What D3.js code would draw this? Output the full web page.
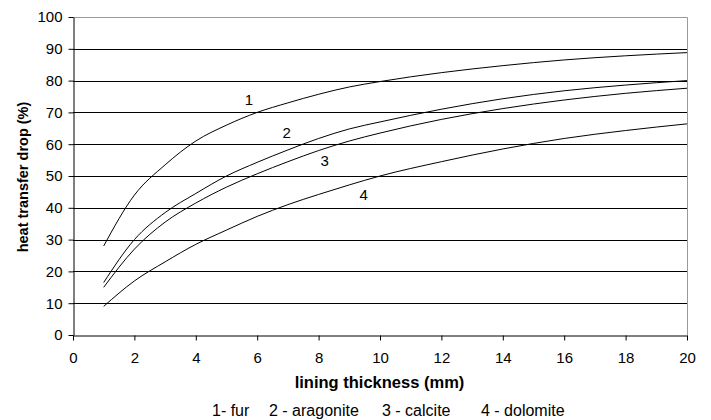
<!DOCTYPE html>
<html>
<head>
<meta charset="utf-8">
<script src="https://cdn.jsdelivr.net/npm/d3@7"></script>
<style>
  body { margin: 0; background: #fff; }
  text { font-family: "Liberation Sans", Arial, sans-serif; }
</style>
</head>
<body>
<div id="chart"></div>
<script>
// Data
var thickness = [1, 2, 3, 4, 5, 6, 7, 8, 9, 10, 12, 14, 16, 18, 20];
var fur       = [28, 44, 53.5, 61, 66, 70, 73, 75.7, 78, 79.7, 82.5, 84.7, 86.5, 87.8, 88.8];
var aragonite = [16.5, 30, 38.5, 44.5, 50, 54.3, 58.2, 61.8, 64.8, 67, 71, 74.3, 76.8, 78.6, 80];
var calcite   = [15, 27, 35.5, 41.5, 46.5, 50.7, 54.5, 58, 61, 63.5, 67.8, 71.2, 73.9, 76, 77.6];
var dolomite  = [9, 17, 23, 28.5, 33, 37.3, 41, 44.2, 47.2, 50, 54.5, 58.5, 61.8, 64.3, 66.4];
var seriesNames = ["1", "2", "3", "4"];
var labelPos = [[5.73, 72.3], [6.96, 62.1], [8.2, 53.1], [9.47, 42.5]];
var legendItems = ["1- fur", "2 - aragonite", "3 - calcite", "4 - dolomite"];
var xTicks = d3.range(0, 21, 2);
var yTicks = d3.range(0, 101, 10);

var margin = {top: 17, right: 24, bottom: 85, left: 73},
    width = 711 - margin.left - margin.right,
    height = 420 - margin.top - margin.bottom;

// Legend item start positions (page pixels)
var legendX = [212, 269, 382, 481];

var svg = d3.select("#chart")
  .append("svg")
    .attr("width", 711)
    .attr("height", 420)
  .append("g")
    .attr("transform", "translate(" + margin.left + "," + margin.top + ")");

var x = d3.scaleLinear().domain([0, 20]).range([0, width]);
var y = d3.scaleLinear().domain([0, 100]).range([height, 0]);

// Gridlines
svg.selectAll("line.grid")
  .data(yTicks.filter(function(d) { return d > 0 && d < 100; }))
  .enter()
  .append("line")
    .attr("class", "grid")
    .attr("x1", 0).attr("x2", width)
    .attr("y1", function(d) { return Math.round(y(d)) + 0.5; })
    .attr("y2", function(d) { return Math.round(y(d)) + 0.5; })
    .attr("stroke", "#000")
    .attr("stroke-width", 1);

// Plot border (top and right)
svg.append("path")
  .attr("d", "M0," + (Math.round(y(100)) + 0.5) + "H" + (Math.round(width) + 0.5) + "V" + height)
  .attr("fill", "none")
  .attr("stroke", "#999");

// Axes
var xAxis = svg.append("g")
  .attr("transform", "translate(0," + (Math.round(height) + 0.5) + ")")
  .call(d3.axisBottom(x).tickValues(xTicks).tickSize(5).tickSizeOuter(0).tickPadding(12));

var yAxis = svg.append("g")
  .attr("transform", "translate(0.5,0)")
  .call(d3.axisLeft(y).tickValues(yTicks).tickSize(5).tickSizeOuter(0).tickPadding(6));

[xAxis, yAxis].forEach(function(a) {
  a.selectAll("path, line").attr("stroke", "#000");
  a.selectAll("text").attr("fill", "#000").style("font-size", "15px")
    .style("font-family", "'Liberation Sans', Arial, sans-serif");
});

// Lines
var allSeries = [fur, aragonite, calcite, dolomite];
var line = d3.line()
  .x(function(d, i) { return x(thickness[i]); })
  .y(function(d) { return y(d); })
  .curve(d3.curveMonotoneX);

svg.selectAll("path.series")
  .data(allSeries)
  .enter()
  .append("path")
    .attr("class", "series")
    .attr("d", line)
    .attr("fill", "none")
    .attr("stroke", "#000")
    .attr("stroke-width", 1);

// Curve labels
svg.selectAll("text.curve-label")
  .data(seriesNames)
  .enter()
  .append("text")
    .attr("class", "curve-label")
    .attr("x", function(d, i) { return x(labelPos[i][0]); })
    .attr("y", function(d, i) { return y(labelPos[i][1]); })
    .attr("text-anchor", "middle")
    .style("font-size", "15px")
    .text(function(d) { return d; });

// Axis titles
svg.append("text")
  .attr("transform", "translate(-45," + (height / 2 + 1) + ")rotate(-90)")
  .attr("text-anchor", "middle")
  .style("font-size", "14.5px")
  .style("font-weight", "bold")
  .text("heat transfer drop (%)");

svg.append("text")
  .attr("x", 379.5 - margin.left)
  .attr("y", height + 53)
  .attr("text-anchor", "middle")
  .style("font-size", "16.5px")
  .style("font-weight", "bold")
  .text("lining thickness (mm)");

// Legend
svg.selectAll("text.legend")
  .data(legendItems)
  .enter()
  .append("text")
    .attr("class", "legend")
    .attr("x", function(d, i) { return legendX[i] - margin.left; })
    .attr("y", height + 81)
    .style("font-size", "16px")
    .text(function(d) { return d; });
</script>
</body>
</html>
